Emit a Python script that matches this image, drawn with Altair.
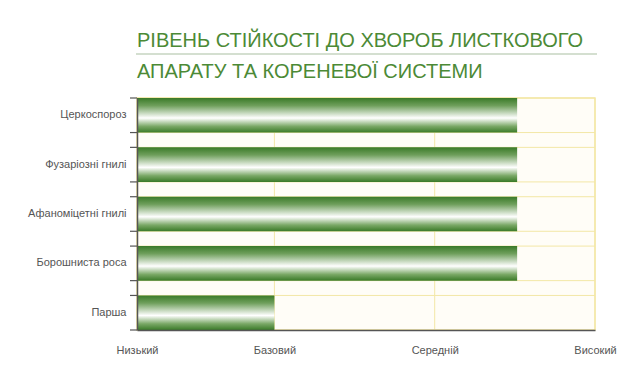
import altair as alt
import pandas as pd

TITLE_LINES = ["РІВЕНЬ СТІЙКОСТІ ДО ХВОРОБ ЛИСТКОВОГО", "АПАРАТУ ТА КОРЕНЕВОЇ СИСТЕМИ"]
DISEASES = ["Церкоспороз", "Фузаріозні гнилі", "Афаноміцетні гнилі", "Борошниста роса", "Парша"]
LEVELS = [83, 83, 83, 83, 30]
TICK_VALUES = [0, 30, 65, 100]
TICK_LABELS = ["Низький", "Базовий", "Середній", "Високий"]

FONT = "Liberation Sans"
df = pd.DataFrame({"disease": DISEASES, "level": LEVELS})
grid_df = pd.DataFrame({"level": TICK_VALUES})

label_expr = " : ".join(
    f"datum.value == {v} ? '{l}'" for v, l in zip(TICK_VALUES, TICK_LABELS)
) + " : ''"

x_scale = alt.Scale(domain=[0, 100], nice=False, zero=True)
x_axis = alt.Axis(
    values=TICK_VALUES, labelExpr=label_expr, title=None, ticks=False,
    domainColor="#555555", domainWidth=1.5, grid=False,
    labelColor="#555555", labelFont=FONT, labelFontSize=11, labelPadding=14,
    labelFlush=False, zindex=1,
)
y_scale = alt.Scale(domain=DISEASES, paddingInner=0.3, paddingOuter=0)
y_axis = alt.Axis(
    title=None, ticks=False, domainColor="#555555", domainWidth=1.5,
    labelColor="#555555", labelFont=FONT, labelFontSize=11, labelPadding=11,
    zindex=1,
)


def y_at(pos):
    return alt.Y("disease:N", sort=DISEASES, scale=y_scale, bandPosition=pos, axis=y_axis)


gradient = alt.Gradient(
    gradient="linear",
    stops=[
        alt.GradientStop(color="#3a7a28", offset=0),
        alt.GradientStop(color="#6f9f5c", offset=0.22),
        alt.GradientStop(color="#ffffff", offset=0.58),
        alt.GradientStop(color="#7aa866", offset=0.82),
        alt.GradientStop(color="#3a7a28", offset=1),
    ],
    x1=0, x2=0, y1=0, y2=1,
)

base = alt.Chart(df)

vgrid = alt.Chart(grid_df).mark_rule(color="#f3e7a6", strokeWidth=1).encode(
    x=alt.X("level:Q", scale=x_scale, axis=x_axis),
    y=alt.value(0), y2=alt.value(232),
)
hlines_top = base.mark_rule(color="#f3e7a6", strokeWidth=1).encode(
    y=y_at(0), x=alt.value(0), x2=alt.value(458),
)
hlines_bot = base.mark_rule(color="#f3e7a6", strokeWidth=1).encode(
    y=y_at(1), x=alt.value(0), x2=alt.value(458),
)

bars = base.mark_bar(color=gradient, cornerRadius=0).encode(
    x=alt.X("level:Q", scale=x_scale, axis=x_axis),
    y=alt.Y("disease:N", sort=DISEASES, scale=y_scale, axis=y_axis),
)

ticks_top = base.mark_rule(color="#555555", strokeWidth=1.2).encode(
    y=y_at(0), x=alt.value(-7), x2=alt.value(0),
)
ticks_bot = base.mark_rule(color="#555555", strokeWidth=1.2).encode(
    y=y_at(1), x=alt.value(-7), x2=alt.value(0),
)

title1 = alt.Chart(pd.DataFrame({"t": [TITLE_LINES[0]]})).mark_text(
    align="left", baseline="alphabetic", font=FONT, fontSize=20, color="#4c8a36"
).encode(text="t:N", x=alt.value(0), y=alt.value(-51))
title2 = alt.Chart(pd.DataFrame({"t": [TITLE_LINES[1]]})).mark_text(
    align="left", baseline="alphabetic", font=FONT, fontSize=20, color="#4c8a36"
).encode(text="t:N", x=alt.value(0), y=alt.value(-20))
title_rule = alt.Chart(pd.DataFrame({"t": [0]})).mark_rule(
    color="#a9bfa2", strokeWidth=1.2
).encode(x=alt.value(-1), x2=alt.value(460), y=alt.value(-44))

chart = alt.layer(
    vgrid, hlines_top, hlines_bot, bars, ticks_top, ticks_bot, title1, title2, title_rule
).properties(
    width=458, height=232,
    autosize=alt.AutoSizeParams(type="none"),
    padding={"left": 129, "top": 90, "right": 30, "bottom": 40},
    background="white",
).configure_view(
    fill="#fffdf7", stroke="#f3e7a6", strokeWidth=1.5
)

chart.save("out.html", embed_options={"renderer": "svg", "actions": False})
